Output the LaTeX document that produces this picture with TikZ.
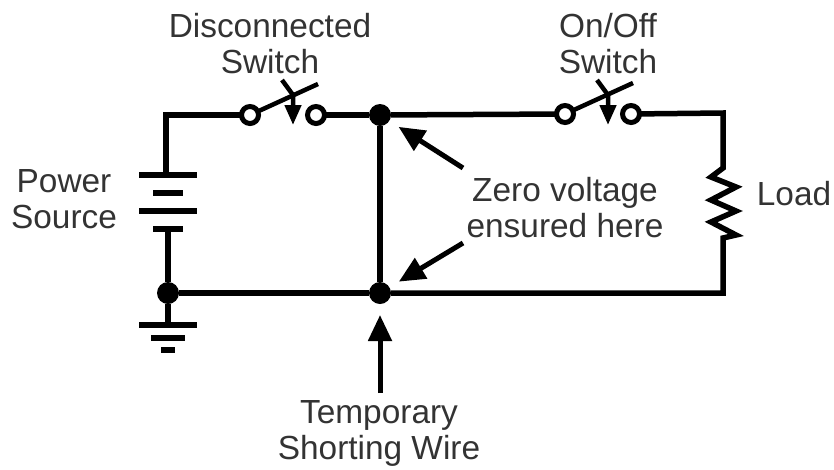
\documentclass[tikz,border=0pt]{standalone}
\usepackage{fontspec}
\setmainfont{Liberation Sans}
\usetikzlibrary{arrows.meta}
\tikzset{wire/.style={line width=5.5pt}}
\tikzset{blade/.style={line width=4.5pt}}
\tikzset{term/.style={circle, draw, fill=white, line width=5pt, minimum size=17pt, inner sep=0pt, outer sep=0pt}}
\tikzset{dot/.style={circle, fill=black, minimum size=22pt, inner sep=0pt, outer sep=0pt}}
\tikzset{plate/.style={rectangle, fill=black, minimum height=6pt, inner sep=0pt, outer sep=0pt}}
\tikzset{lbl/.style={align=center, text=black!80, font=\fontsize{33.4}{36}\selectfont, inner sep=0pt}}
\tikzset{point/.style={line width=5pt, -{Triangle[width=23pt,length=26pt]}, shorten >=11pt}}
\tikzset{push/.style={line width=4.5pt, -{Triangle[width=16pt,length=20pt]}}}

\begin{document}
\begin{tikzpicture}[x=1pt,y=-1pt]
    \useasboundingbox (0,0) rectangle (834,469);

    % circuit
    \coordinate (tl) at (166,115);
    \coordinate (tr) at (723,113);
    \coordinate (br) at (723,293);
    \node[dot] (jt) at (380,115) {};
    \node[dot] (jb) at (380,293) {};
    \node[dot] (jg) at (168,293) {};
    \node[term] (sa1) at (250,115) {};
    \node[term] (sa2) at (316,115) {};
    \node[term] (sb1) at (565,114) {};
    \node[term] (sb2) at (631,114) {};

    % battery
    \node[plate, minimum width=58pt] (b1) at (168,175) {};
    \node[plate, minimum width=30pt] (b2) at (168,193) {};
    \node[plate, minimum width=58pt] (b3) at (168,211) {};
    \node[plate, minimum width=30pt] (b4) at (168,229) {};

    % ground
    \node[plate, minimum width=58pt] (g1) at (168,325) {};
    \node[plate, minimum width=34pt] (g2) at (168,337.5) {};
    \node[plate, minimum width=14pt] (g3) at (168,350) {};

    \draw[wire, line join=miter] (sa1) -- (tl) -- (tl |- b1.north);
    \draw[wire] (b4) -- (jg);
    \draw[wire] (jg) -- (g1);
    \draw[wire] (sa2) -- (jt);
    \draw[wire] (jt) -- (sb1);
    \draw[wire] (jt) -- (jb);
    \draw[wire] (jg) -- (jb);
    \draw[wire, line join=miter, miter limit=10] (jb) -- (br) -- (723,238) -- (736,235) -- (711,222) -- (736,211) -- (711,200) -- (736,187) -- (711,177) -- (723,168) -- (tr) -- (sb2);

    % switches
    \foreach \s/\x in {sa/293, sb/608} {
      \draw[blade] (\s1) -- ++(68,-31);
      \draw[push] (\x-11,80) -- (\x,95) -- (\x,125);
    }

    % labels
    \node[lbl] (sw1) at (270,44) {Disconnected\\Switch};
    \node[lbl] (sw2) at (608,44) {On/Off\\Switch};
    \node[lbl] (src) at (64,199) {Power\\Source};
    \node[lbl] (zero) at (565,208) {Zero voltage\\ensured here};
    \node[lbl] (load) at (794,194) {Load};
    \node[lbl] (short) at (379,433) {Temporary\\Shorting Wire};

    \coordinate (zt) at (463,168);
    \coordinate (zb) at (463,243);
    \coordinate (st) at (380,393);
    \draw[point] (zt) -- (jt);
    \draw[point] (zb) -- (jb);
    \draw[point] (st) -- (jb);

\end{tikzpicture}
\end{document}
